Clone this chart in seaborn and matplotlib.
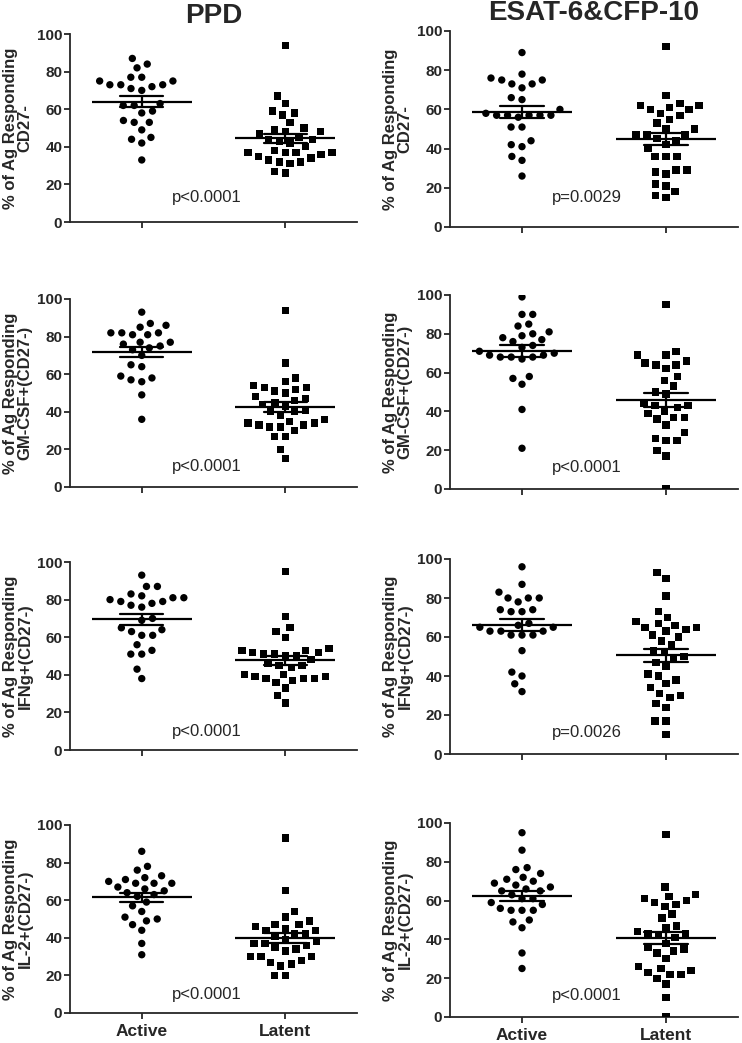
import numpy as np
import pandas as pd
import matplotlib
matplotlib.use("Agg")
import matplotlib.pyplot as plt
import seaborn as sns

# Categories and labels
groups = ["Active", "Latent"]
antigens = ["PPD", "ESAT-6&CFP-10"]
readouts = ["CD27-", "GM-CSF+(CD27-)", "IFNg+(CD27-)", "IL-2+(CD27-)"]
p_values = [["p<0.0001", "p=0.0029"],
            ["p<0.0001", "p<0.0001"],
            ["p<0.0001", "p=0.0026"],
            ["p<0.0001", "p<0.0001"]]

# Values (% of Ag responding)
ppd_cd27_active = [87, 84, 82, 77, 77, 75, 75, 73, 73, 73, 72, 71, 70, 63, 62, 62, 59, 58, 54, 53, 53, 49, 45, 44, 42, 33]
ppd_cd27_latent = [94, 67, 63, 59, 58, 57, 53, 50, 49, 48, 48, 47, 45, 44, 44, 43, 42, 40, 38, 37, 37, 37, 37, 36, 35, 34,
                   33, 32, 32, 31, 27, 26]
esat_cd27_active = [89, 78, 76, 75, 75, 73, 73, 71, 66, 65, 60, 57, 56, 57, 58, 57, 57, 57, 51, 51, 44, 42, 41, 36, 34, 26]
esat_cd27_latent = [92, 67, 63, 62, 62, 61, 60, 60, 58, 57, 55, 53, 50, 50, 47, 47, 47, 45, 44, 42, 40, 36, 36, 36, 29,
                    29, 28, 27, 22, 21, 18, 16, 15]

ppd_gmcsf_active = [93, 87, 86, 85, 82, 81, 81, 82, 82, 77, 77, 76, 75, 74, 73, 70, 65, 64, 59, 58, 57, 56, 49, 36]
ppd_gmcsf_latent = [94, 66, 58, 56, 54, 53, 53, 52, 51, 50, 48, 47, 46, 45, 44, 43, 41, 40, 40, 38, 36, 35, 34, 34, 33,
                    33, 32, 32, 30, 27, 27, 20, 15]
esat_gmcsf_active = [99, 90, 90, 85, 84, 81, 80, 79, 78, 77, 76, 74, 73, 71, 70, 69, 68, 68, 68, 69, 67, 58, 57, 54, 41, 21]
esat_gmcsf_latent = [95, 71, 69, 69, 66, 65, 64, 64, 62, 58, 56, 53, 50, 49, 44, 43, 43, 42, 40, 39, 37, 37, 36, 33, 29,
                     26, 25, 25, 20, 17, 0]

ppd_ifng_active = [93, 87, 87, 83, 82, 81, 81, 80, 79, 79, 78, 77, 76, 70, 69, 65, 64, 63, 61, 61, 56, 53, 51, 51, 43, 38]
ppd_ifng_latent = [95, 71, 65, 63, 60, 53, 54, 53, 52, 52, 51, 51, 50, 50, 48, 46, 45, 45, 44, 40, 40, 39, 39, 38, 38, 38,
                   37, 36, 33, 29, 25]
esat_ifng_active = [96, 87, 83, 80, 80, 80, 78, 74, 74, 73, 73, 67, 66, 65, 65, 63, 63, 63, 61, 61, 61, 53, 42, 40, 36, 32]
esat_ifng_latent = [93, 90, 81, 73, 70, 68, 67, 66, 65, 65, 64, 63, 61, 60, 58, 56, 53, 52, 50, 49, 47, 45, 41, 40, 38,
                    36, 34, 31, 30, 29, 26, 24, 17, 17, 10]

ppd_il2_active = [86, 78, 76, 73, 72, 71, 70, 69, 69, 69, 67, 66, 65, 64, 63, 62, 59, 57, 54, 51, 50, 49, 47, 44, 37, 31]
ppd_il2_latent = [93, 65, 54, 51, 49, 47, 47, 46, 45, 44, 44, 42, 42, 41, 39, 38, 37, 37, 36, 35, 34, 33, 30, 30, 30, 28,
                  27, 26, 25, 20, 20]
esat_il2_active = [95, 86, 77, 76, 74, 72, 71, 70, 69, 68, 67, 66, 65, 65, 63, 61, 61, 59, 58, 56, 55, 55, 55, 50, 49, 46,
                   33, 25]
esat_il2_latent = [94, 67, 63, 62, 61, 60, 59, 58, 57, 53, 51, 47, 46, 44, 43, 43, 42, 41, 38, 36, 35, 34, 33, 30, 26, 25,
                   24, 23, 22, 22, 20, 17, 10, 0]

panel_values = {
    ("PPD", "CD27-"): (ppd_cd27_active, ppd_cd27_latent),
    ("ESAT-6&CFP-10", "CD27-"): (esat_cd27_active, esat_cd27_latent),
    ("PPD", "GM-CSF+(CD27-)"): (ppd_gmcsf_active, ppd_gmcsf_latent),
    ("ESAT-6&CFP-10", "GM-CSF+(CD27-)"): (esat_gmcsf_active, esat_gmcsf_latent),
    ("PPD", "IFNg+(CD27-)"): (ppd_ifng_active, ppd_ifng_latent),
    ("ESAT-6&CFP-10", "IFNg+(CD27-)"): (esat_ifng_active, esat_ifng_latent),
    ("PPD", "IL-2+(CD27-)"): (ppd_il2_active, ppd_il2_latent),
    ("ESAT-6&CFP-10", "IL-2+(CD27-)"): (esat_il2_active, esat_il2_latent),
}

# Build a long table
rows = []
for (antigen, readout), (active, latent) in panel_values.items():
    for g, vals in zip(groups, [active, latent]):
        for v in vals:
            rows.append({"Antigen": antigen, "Readout": readout, "Group": g, "Value": v})
df = pd.DataFrame(rows)

# Style
sns.set_style("ticks")
plt.rcParams["font.family"] = ["Liberation Sans", "DejaVu Sans"]
plt.rcParams["axes.linewidth"] = 1.3

W, H = 742, 1043
fig = plt.figure(figsize=(W / 100, H / 100), dpi=100)

# Panel boxes in pixels: (left, top, right, bottom)
col_x = [(70, 357), (450, 738)]
row_y = [[(34, 222), (31, 227)],
         [(299, 487), (295, 489)],
         [(562, 750), (559, 754)],
         [(825, 1013), (823, 1017)]]
p_text_y = [[13, 15], [11, 11], [10, 11], [10, 11]]

for r, readout in enumerate(readouts):
    for c, antigen in enumerate(antigens):
        x0, x1 = col_x[c]
        y0, y1 = row_y[r][c]
        ax = fig.add_axes([x0 / W, 1 - y1 / H, (x1 - x0) / W, (y1 - y0) / H])
        sub = df[(df["Antigen"] == antigen) & (df["Readout"] == readout)]

        # Scatter dot plot (edge width only widens the swarm spacing)
        for g, marker in zip(groups, ["o", "s"]):
            sns.swarmplot(data=sub[sub["Group"] == g], x="Group", y="Value", order=groups,
                          marker=marker, color="black", size=5.3, linewidth=2.2,
                          edgecolor="none", ax=ax)

        # Mean +/- SEM
        sns.pointplot(data=sub, x="Group", y="Value", order=groups, errorbar="se",
                      capsize=0.3, color="black", linestyle="none", marker="",
                      err_kws={"linewidth": 1.6}, ax=ax)
        means = sub.groupby("Group")["Value"].mean().reindex(groups)
        pos = np.arange(len(groups))
        ax.hlines(means.values, pos - 0.35, pos + 0.35, color="black", lw=1.6)

        ax.set_xlim(-0.5, 1.5)
        ax.set_ylim(0, 100)
        ax.set_yticks([0, 20, 40, 60, 80, 100])
        ax.tick_params(axis="both", direction="out", length=4, width=1.3, pad=1.5)
        ax.tick_params(axis="y", labelsize=11)
        for lab in ax.get_yticklabels():
            lab.set_fontweight("bold")
        ax.set_xticks(pos)
        if r == len(readouts) - 1:
            ax.set_xticklabels(groups, fontsize=12.5, fontweight="bold")
            ax.tick_params(axis="x", pad=4)
        else:
            ax.set_xticklabels(["", ""])
        ax.set_xlabel("")
        ax.set_ylabel(f"% of Ag Responding\n{readout}", fontsize=12, fontweight="bold",
                      labelpad=3, linespacing=1.0)
        sns.despine(ax=ax)

        if r == 0:
            ax.set_title(antigen, fontsize=20, fontweight="bold", pad=8)

        ax.text(0.45, p_text_y[r][c], p_values[r][c], ha="center", va="center", fontsize=12)

fig.savefig("out.png", dpi=100)
